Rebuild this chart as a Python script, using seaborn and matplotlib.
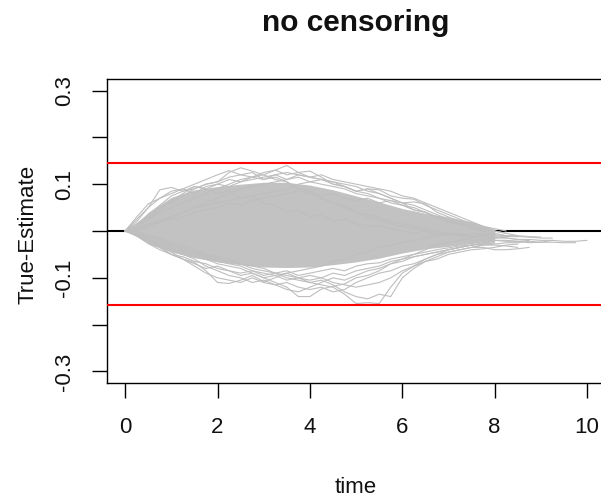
import numpy as np
import pandas as pd
import matplotlib
matplotlib.use("Agg")
import matplotlib.pyplot as plt
import seaborn as sns

# ---------------- data ----------------
TIME = [0.0, 0.25, 0.5, 0.75, 1.0, 1.25, 1.5, 1.75, 2.0, 2.25, 2.5, 2.75,
        3.0, 3.25, 3.5, 3.75, 4.0, 4.25, 4.5, 4.75, 5.0, 5.25, 5.5, 5.75,
        6.0, 6.25, 6.5, 6.75, 7.0, 7.25, 7.5, 7.75, 8.0, 8.25, 8.5, 8.75,
        9.0, 9.25, 9.5, 9.75, 10.0]

# outer paths (upper side)
upper_1 = [0, 0.02, 0.05, 0.088, 0.093, 0.085, 0.095, 0.09, 0.08, 0.085, 0.07, 0.075,
           0.06, 0.055, 0.04, 0.045, 0.03, 0.035, 0.02, 0.025, 0.015, 0.01, 0.012, 0.005,
           0.0, -0.005, 0.0, -0.01, -0.005, -0.01, -0.012, -0.01, -0.015, -0.012]
upper_2 = [0, 0.015, 0.03, 0.05, 0.06, 0.075, 0.09, 0.1, 0.105, 0.125, 0.135, 0.128,
           0.12, 0.11, 0.105, 0.09, 0.085, 0.07, 0.06, 0.055, 0.04, 0.035, 0.03, 0.02,
           0.015, 0.01, 0.005, 0.0, -0.005, -0.008, -0.01, -0.012, -0.015]
upper_3 = [0, 0.01, 0.025, 0.04, 0.05, 0.06, 0.07, 0.08, 0.09, 0.1, 0.11, 0.115,
           0.12, 0.13, 0.14, 0.125, 0.128, 0.115, 0.1, 0.095, 0.085, 0.09, 0.08, 0.07,
           0.06, 0.045, 0.04, 0.03, 0.02, 0.015, 0.01, 0.0, -0.005, -0.01, -0.012]
upper_4 = [0, 0.005, 0.015, 0.02, 0.03, 0.04, 0.05, 0.055, 0.06, 0.065, 0.07, 0.075,
           0.08, 0.085, 0.09, 0.1, 0.105, 0.11, 0.1, 0.095, 0.085, 0.09, 0.088, 0.075,
           0.07, 0.068, 0.055, 0.045, 0.035, 0.025, 0.015, 0.01, 0.0, -0.005, -0.01]
upper_5 = [0, 0.0, 0.01, 0.02, 0.025, 0.03, 0.04, 0.045, 0.05, 0.06, 0.055, 0.065,
           0.07, 0.075, 0.08, 0.085, 0.08, 0.075, 0.08, 0.07, 0.065, 0.07, 0.06, 0.065,
           0.06, 0.062, 0.058, 0.04, 0.03, 0.02, 0.01, 0.005, 0.0, -0.005]
upper_6 = [0, 0.03, 0.058, 0.07, 0.08, 0.09, 0.1, 0.11, 0.12, 0.129, 0.12, 0.125,
           0.11, 0.115, 0.105, 0.09, 0.085, 0.07, 0.06, 0.05, 0.04, 0.03, 0.025, 0.015,
           0.01, 0.005, 0.0, -0.005, -0.005, -0.01, -0.012]

# outer paths (lower side)
lower_1 = [0, -0.01, -0.027, -0.04, -0.05, -0.06, -0.067, -0.085, -0.11, -0.112, -0.105, -0.095,
           -0.108, -0.1, -0.09, -0.085, -0.08, -0.075, -0.065, -0.06, -0.05, -0.045, -0.035, -0.03,
           -0.025, -0.02, -0.015, -0.01, -0.008, -0.005, -0.01, -0.012, -0.015]
lower_2 = [0, -0.005, -0.015, -0.025, -0.035, -0.045, -0.055, -0.06, -0.07, -0.075, -0.08, -0.09,
           -0.1, -0.11, -0.12, -0.14, -0.14, -0.124, -0.118, -0.113, -0.1, -0.095, -0.085, -0.07,
           -0.06, -0.05, -0.04, -0.03, -0.025, -0.02, -0.015, -0.01, -0.012, -0.015, -0.018]
lower_3 = [0, 0, -0.01, -0.02, -0.03, -0.035, -0.045, -0.05, -0.06, -0.065, -0.07, -0.08,
           -0.085, -0.09, -0.1, -0.105, -0.11, -0.115, -0.12, -0.135, -0.155, -0.153, -0.155, -0.12,
           -0.09, -0.075, -0.06, -0.05, -0.04, -0.035, -0.03, -0.025, -0.02, -0.02, -0.022, -0.02]
lower_4 = [0, -0.005, -0.01, -0.015, -0.025, -0.03, -0.04, -0.05, -0.055, -0.06, -0.07, -0.075,
           -0.08, -0.09, -0.095, -0.1, -0.11, -0.105, -0.115, -0.13, -0.14, -0.145, -0.135, -0.14,
           -0.1, -0.08, -0.065, -0.055, -0.045, -0.04, -0.035, -0.03, -0.028, -0.025, -0.025, -0.022,
           -0.024, -0.02]
lower_5 = [0, -0.01, -0.02, -0.035, -0.05, -0.06, -0.075, -0.09, -0.1, -0.105, -0.11, -0.1,
           -0.11, -0.115, -0.125, -0.13, -0.12, -0.11, -0.1, -0.105, -0.095, -0.085, -0.08, -0.07,
           -0.065, -0.055, -0.05, -0.045, -0.04, -0.035, -0.03, -0.028, -0.025]

# paths between the dense core and the outer ones
mid_1 = [0, 0.025, 0.05, 0.07, 0.085, 0.09, 0.08, 0.095, 0.1, 0.095, 0.105, 0.11,
         0.115, 0.12, 0.11, 0.115, 0.105, 0.1, 0.095, 0.09, 0.08, 0.075, 0.07, 0.06,
         0.055, 0.045, 0.04, 0.03, 0.02, 0.015, 0.01, 0.005]
mid_2 = [0, 0.01, 0.025, 0.045, 0.065, 0.08, 0.095, 0.09, 0.1, 0.11, 0.105, 0.115,
         0.11, 0.12, 0.125, 0.12, 0.115, 0.11, 0.105, 0.1, 0.095, 0.085, 0.08, 0.07,
         0.06, 0.055, 0.045, 0.035, 0.025, 0.015, 0.01]
mid_3 = [0, 0.015, 0.035, 0.055, 0.075, 0.085, 0.09, 0.1, 0.105, 0.115, 0.12, 0.115,
         0.125, 0.13, 0.12, 0.125, 0.115, 0.11, 0.105, 0.095, 0.085, 0.08, 0.07, 0.065,
         0.055, 0.05, 0.04, 0.03, 0.02, 0.015, 0.005, 0.0, -0.005]
mid_4 = [0, -0.01, -0.025, -0.035, -0.05, -0.055, -0.065, -0.07, -0.08, -0.085, -0.095, -0.09,
         -0.1, -0.095, -0.105, -0.1, -0.095, -0.1, -0.09, -0.095, -0.085, -0.08, -0.075, -0.065,
         -0.06, -0.055, -0.05, -0.045, -0.04, -0.035, -0.03, -0.028, -0.025]
mid_5 = [0, -0.005, -0.02, -0.03, -0.04, -0.05, -0.06, -0.075, -0.085, -0.095, -0.1, -0.11,
         -0.105, -0.115, -0.11, -0.12, -0.125, -0.12, -0.13, -0.125, -0.11, -0.1, -0.09, -0.085,
         -0.075, -0.07, -0.06, -0.05, -0.045, -0.04, -0.035, -0.03, -0.03, -0.032, -0.035]
mid_6 = [0, -0.005, -0.01, -0.02, -0.03, -0.04, -0.05, -0.055, -0.065, -0.07, -0.075, -0.085,
         -0.09, -0.095, -0.09, -0.1, -0.105, -0.1, -0.11, -0.115, -0.12, -0.115, -0.11, -0.1,
         -0.085, -0.075, -0.065, -0.06, -0.05, -0.045, -0.04, -0.038, -0.035, -0.03, -0.028]
mid_7 = [0, 0.005, 0.01, 0.02, 0.03, 0.04, 0.05, 0.06, 0.07, 0.08, 0.09, 0.095,
         0.1, 0.105, 0.11, 0.12, 0.115, 0.12, 0.11, 0.105, 0.1, 0.095, 0.09, 0.085,
         0.075, 0.07, 0.06, 0.05, 0.04, 0.03, 0.02, 0.01, 0.005, 0.0]
mid_8 = [0, -0.008, -0.018, -0.03, -0.045, -0.06, -0.07, -0.08, -0.075, -0.085, -0.09, -0.085,
         -0.095, -0.09, -0.085, -0.095, -0.09, -0.085, -0.08, -0.085, -0.075, -0.07, -0.068, -0.06,
         -0.055, -0.05, -0.045, -0.04, -0.036, -0.032, -0.03, -0.026, -0.022]

# late parts of the longest paths
TAIL_TIME = [7.5, 7.75, 8.0, 8.25, 8.5, 8.75, 9.0, 9.25, 9.5, 9.75, 10.0]
tail_1 = [-0.02, -0.018, -0.015, -0.015, -0.018, -0.018, -0.02, -0.02, -0.022, -0.022, -0.02]
tail_2 = [-0.025, -0.022, -0.02, -0.022, -0.022, -0.025, -0.024, -0.024, -0.025, -0.025]
tail_3 = [-0.01, -0.008, -0.01, -0.012, -0.012, -0.013, -0.015, -0.015]
tail_4 = [-0.035, -0.035, -0.04, -0.04, -0.038, -0.035]
tail_5 = [-0.005, -0.005, -0.008, -0.01, -0.01, -0.012, -0.013]

# dense core where the paths overlap completely
CORE_TIME = [0, 0.25, 0.5, 1.0, 1.5, 2.0, 2.5, 3.0, 3.5, 4.0, 4.5, 5.0, 5.5, 6.0, 6.5, 7.0, 7.5, 8.0]
CORE_HI = [0, 0.015, 0.04, 0.072, 0.088, 0.095, 0.1, 0.104, 0.104, 0.098, 0.088, 0.075,
           0.062, 0.048, 0.038, 0.03, 0.02, 0.004]
CORE_LO = [0, -0.012, -0.027, -0.045, -0.057, -0.066, -0.072, -0.077, -0.078, -0.077, -0.072,
           -0.066, -0.058, -0.047, -0.038, -0.033, -0.027, -0.018]

BANDS = [0.145, -0.157]
X_TICKS = [0, 2, 4, 6, 8, 10]
Y_TICKS = [-0.3, -0.2, -0.1, 0.0, 0.1, 0.2, 0.3]
Y_TICK_LABELS = ["-0.3", "", "-0.1", "", "0.1", "", "0.3"]

# ---------------- build long-form table ----------------
paths = {"upper_1": upper_1, "upper_2": upper_2, "upper_3": upper_3, "upper_4": upper_4,
         "upper_5": upper_5, "upper_6": upper_6, "lower_1": lower_1, "lower_2": lower_2,
         "lower_3": lower_3, "lower_4": lower_4, "lower_5": lower_5, "mid_1": mid_1,
         "mid_2": mid_2, "mid_3": mid_3, "mid_4": mid_4, "mid_5": mid_5, "mid_6": mid_6,
         "mid_7": mid_7, "mid_8": mid_8}
tails = {"tail_1": tail_1, "tail_2": tail_2, "tail_3": tail_3, "tail_4": tail_4, "tail_5": tail_5}
rows = []
for name, vals in paths.items():
    for t, v in zip(TIME, vals):
        rows.append((name, t, v))
for name, vals in tails.items():
    for t, v in zip(TAIL_TIME, vals):
        rows.append((name, t, v))
df = pd.DataFrame(rows, columns=["path", "time", "diff"])

# ---------------- figure ----------------
sns.set_style("white")
plt.rcParams["font.family"] = ["Liberation Sans", "DejaVu Sans"]

fig = plt.figure(figsize=(6.01, 4.99), dpi=100)
ax = fig.add_axes([106.7 / 601, 1 - 382.7 / 499, 498.8 / 601, 303.4 / 499])

ax.axhline(0, color="black", lw=1.5, zorder=1)
ax.fill_between(CORE_TIME, CORE_LO, CORE_HI, color="#C2C2C2", lw=0, zorder=2)
sns.lineplot(data=df, x="time", y="diff", units="path", estimator=None, sort=False,
             color="#BEBEBE", lw=0.8, legend=False, ax=ax, zorder=3)
for b in BANDS:
    ax.axhline(b, color="#FF0000", lw=1.5, zorder=4)

ax.set_xlim(-0.4, 10.4)
ax.set_ylim(-0.324, 0.324)
ax.set_xticks(X_TICKS)
ax.set_xticklabels([str(v) for v in X_TICKS])
ax.set_yticks(Y_TICKS)
ax.set_yticklabels(Y_TICK_LABELS, rotation=90, va="center")
ax.tick_params(axis="both", direction="out", length=10.5, width=1.0, color="black",
               labelsize=16, labelcolor="#111111", bottom=True, left=True)
ax.tick_params(axis="x", pad=14)
ax.tick_params(axis="y", pad=12.5)
for s in ax.spines.values():
    s.set_color("black")
    s.set_linewidth(1.0)
ax.set_xlabel("")
ax.set_ylabel("")

fig.text(356 / 601, 1 - 31 / 499, "no censoring", ha="center", va="baseline",
         fontsize=21.5, fontweight="bold", color="#111111")
fig.text(356 / 601, 1 - 493 / 499, "time", ha="center", va="baseline",
         fontsize=16, color="#111111")
fig.text(33 / 601, 1 - 234 / 499, "True-Estimate", ha="center", va="baseline",
         rotation=90, rotation_mode="anchor", fontsize=16, color="#111111")

fig.savefig("out.png", dpi=100)
